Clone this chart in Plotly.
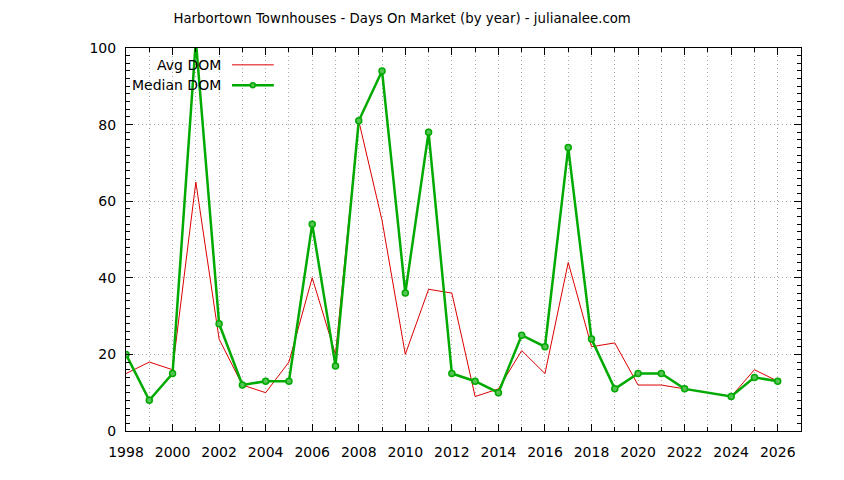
import plotly.graph_objects as go

# data (no 2023 entry)
years = [1998, 1999, 2000, 2001, 2002, 2003, 2004, 2005, 2006, 2007, 2008, 2009, 2010, 2011,
         2012, 2013, 2014, 2015, 2016, 2017, 2018, 2019, 2020, 2021, 2022, 2024, 2025, 2026]
avg_dom = [15, 18, 16, 65, 24, 12, 10, 18, 40, 20, 81, 55, 20, 37,
           36, 9, 11, 21, 15, 44, 22, 23, 12, 12, 11, 9, 16, 13]
median_dom = [20, 8, 15, 102, 28, 12, 13, 13, 54, 17, 81, 94, 36, 78,
              15, 13, 10, 25, 22, 74, 24, 11, 15, 15, 11, 9, 14, 13]

RED = "#dd0000"
GREEN = "#00aa00"
FILL = "#55c455"
FONT = "DejaVu Sans"
GRID = "#a8a8a8"

fig = go.Figure()
fig.add_trace(go.Scatter(x=years, y=avg_dom, mode="lines", name="Avg DOM",
                         line=dict(color=RED, width=1), showlegend=False))
fig.add_trace(go.Scatter(x=years, y=median_dom, mode="lines+markers", name="Median DOM",
                         line=dict(color=GREEN, width=2.5),
                         marker=dict(symbol="circle", size=6, color=FILL,
                                     line=dict(color=GREEN, width=1.5)),
                         showlegend=False))

# gnuplot style key: text right aligned, sample on the right
key = [("Avg DOM", 0.956, False), ("Median DOM", 0.903, True)]
for label, yk, pts in key:
    fig.add_annotation(text=label, xref="paper", yref="paper", x=0.143, y=yk,
                       xanchor="right", yanchor="middle", showarrow=False,
                       font=dict(family=FONT, size=14, color="black"))
    fig.add_shape(type="line", xref="paper", yref="paper", x0=0.157, x1=0.219, y0=yk, y1=yk,
                  line=dict(color=GREEN if pts else RED, width=2.5 if pts else 1))
    if pts:
        fig.add_shape(type="circle", xref="paper", yref="paper",
                      x0=0.188 - 0.0037, x1=0.188 + 0.0037, y0=yk - 0.0065, y1=yk + 0.0065,
                      fillcolor=FILL, line=dict(color=GREEN, width=1.5))

axis_common = dict(showline=True, linecolor="black", linewidth=1, mirror="allticks",
                   ticks="inside", tickcolor="black", ticklen=7, zeroline=False,
                   tickfont=dict(family=FONT, size=14, color="black"),
                   gridcolor=GRID, griddash="1px,3px", gridwidth=1)

fig.update_xaxes(range=[1998, 2027], tick0=1998, dtick=2, showgrid=True,
                 ticklabelstandoff=8,
                 minor=dict(dtick=1, ticks="inside", ticklen=4, tickcolor="black",
                            showgrid=True, gridcolor=GRID, griddash="1px,3px"),
                 **axis_common)
fig.update_yaxes(range=[0, 100], tick0=0, dtick=20, showgrid=True,
                 ticklabelstandoff=6,
                 minor=dict(dtick=2, ticks="inside", ticklen=4, tickcolor="black",
                            showgrid=False),
                 **axis_common)

fig.update_layout(
    width=844, height=480,
    margin=dict(l=118, r=51, t=40, b=57),
    paper_bgcolor="white", plot_bgcolor="white",
    font=dict(family=FONT, size=13, color="black"),
    title=dict(text="Harbortown Townhouses - Days On Market (by year) - julianalee.com",
               x=0.467, xanchor="center", y=0.979, yanchor="middle",
               font=dict(family=FONT, size=13.3, color="black")),
)

fig.write_html("out.html")
